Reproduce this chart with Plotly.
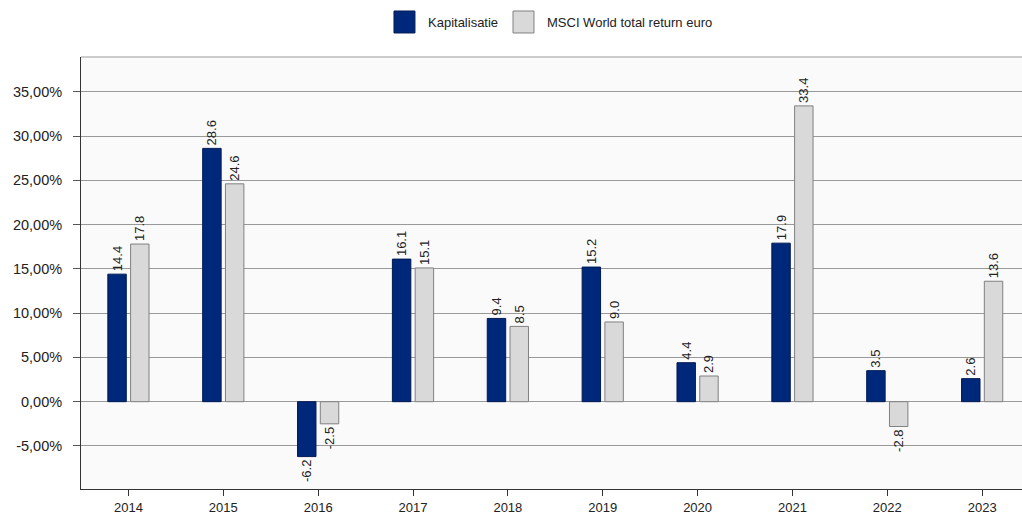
import plotly.graph_objects as go

years = ["2014", "2015", "2016", "2017", "2018", "2019", "2020", "2021", "2022", "2023"]
kapitalisatie = [14.4, 28.6, -6.2, 16.1, 9.4, 15.2, 4.4, 17.9, 3.5, 2.6]
msci = [17.8, 24.6, -2.5, 15.1, 8.5, 9.0, 2.9, 33.4, -2.8, 13.6]
y_tickvals = [-5, 0, 5, 10, 15, 20, 25, 30, 35]
y_ticktext = ["-5,00%", "0,00%", "5,00%", "10,00%", "15,00%", "20,00%", "25,00%", "30,00%", "35,00%"]
series_names = ["Kapitalisatie", "MSCI World total return euro"]
series_colors = ["#00287a", "#d9d9d9"]
series_lines = ["#001a55", "#808080"]

FONT = "Liberation Sans, Arial, sans-serif"
TXT = "#222222"

fig = go.Figure()
for vals, name, col, lc in zip([kapitalisatie, msci], series_names, series_colors, series_lines):
    fig.add_trace(go.Bar(
        x=years, y=vals, name=name, showlegend=False,
        marker=dict(color=col, line=dict(color=lc, width=1)),
        texttemplate="%{y:.1f}", textposition="outside", textangle=-90,
        textfont=dict(family=FONT, size=13, color=TXT), cliponaxis=False,
    ))

fig.update_layout(
    width=1022, height=519,
    margin=dict(l=81, r=0, t=57, b=30, autoexpand=False),
    paper_bgcolor="white", plot_bgcolor="#fafafa",
    font=dict(family=FONT, size=13, color=TXT),
    barmode="group", bargap=0.52, bargroupgap=0.19,
    uniformtext=dict(minsize=13, mode="show"),
)
fig.update_xaxes(
    type="category", range=[-0.5, 9.42],
    showline=True, linecolor="#333333", linewidth=1,
    ticks="outside", ticklen=6, tickcolor="#333333",
    showgrid=False, tickfont=dict(family=FONT, size=13, color=TXT),
)
fig.update_yaxes(
    range=[-9.86, 38.92], tickvals=y_tickvals, ticktext=y_ticktext,
    showline=True, linecolor="#333333", linewidth=1,
    ticks="outside", ticklen=7, tickcolor="#555555", ticklabelstandoff=8,
    showgrid=True, gridcolor="#999999", gridwidth=1, zeroline=False,
    tickfont=dict(family=FONT, size=14.5, color=TXT),
)
fig.add_shape(type="line", xref="paper", yref="paper", x0=0, x1=1, y0=1, y1=1,
              line=dict(color="#999999", width=1))

# custom legend (larger swatches, as in the original)
legend_x = [0.3326, 0.4591]
for lx, name, col, lc in zip(legend_x, series_names, series_colors, series_lines):
    fig.add_shape(type="rect", xref="paper", yref="paper",
                  x0=lx, x1=lx + 0.0223, y0=1.0556, y1=1.1065,
                  fillcolor=col, line=dict(color=lc, width=1))
    fig.add_annotation(xref="paper", yref="paper", x=lx + 0.034, y=1.081,
                       xanchor="left", yanchor="middle", showarrow=False,
                       text=name, font=dict(family=FONT, size=13, color=TXT))

fig.write_html("out.html")
